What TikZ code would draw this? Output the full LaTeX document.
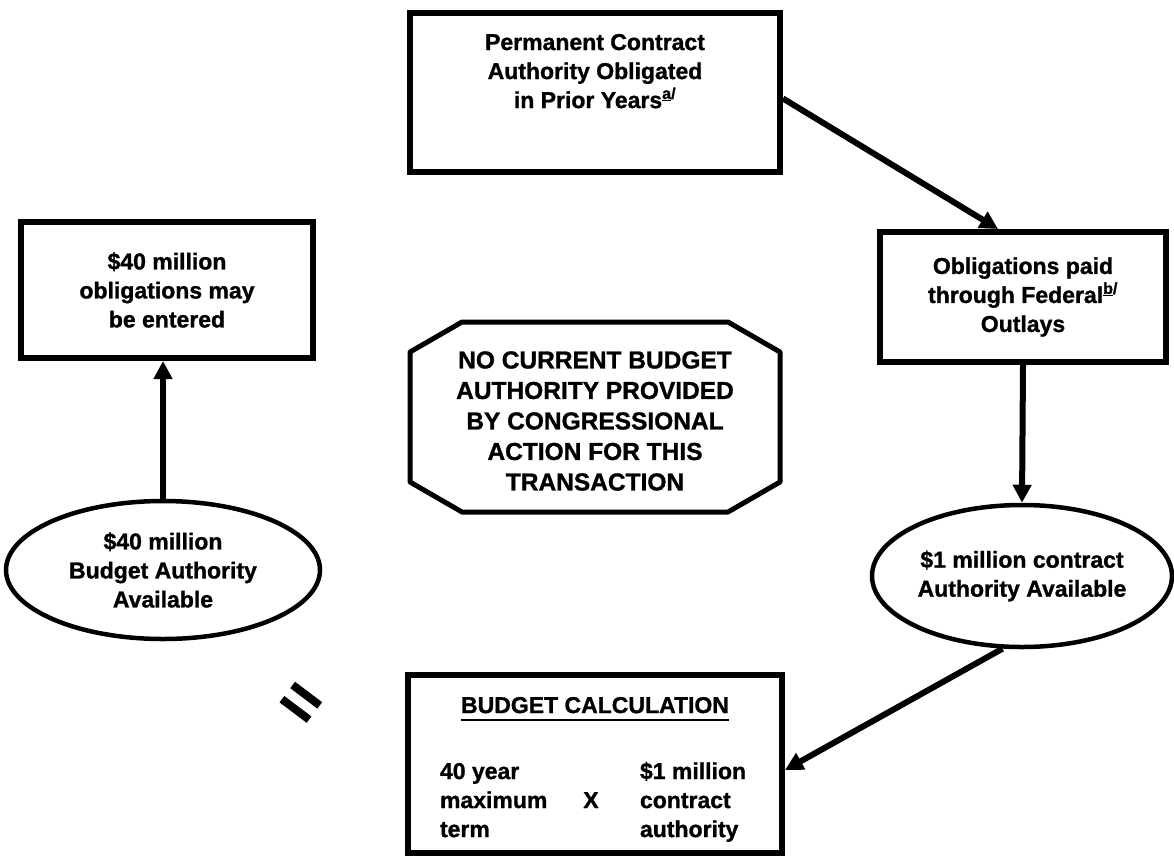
\documentclass[tikz,border=0pt]{standalone}
\usepackage{fontspec}
\setmainfont{Liberation Sans}[BoldFeatures={FakeBold=1.2}]
\usetikzlibrary{shapes.geometric,arrows.meta}
% thick rule under a heading
\newcommand\thickul[1]{\setbox0=\hbox{#1}\leavevmode\rlap{\raisebox{-8pt}{\rule{\wd0}{2.5pt}}}\box0}
\newcommand\fnmark[1]{\textsuperscript{\underline{#1}/}}
\begin{document}
\begin{tikzpicture}[x=1pt,y=-1pt,
  txt/.style={font=\bfseries\fontsize{23}{29}\selectfont, align=center},
  box/.style={txt, draw, line width=6pt, inner sep=0pt},
  oval/.style={txt, draw, ellipse, line width=4.5pt, inner sep=0pt},
  arr/.style={line width=6pt, -{Triangle[length=18pt,width=18pt]}},
]
\useasboundingbox (0,0) rectangle (1174,857);

% central column
\node[box, minimum width=370pt, minimum height=159pt] (prior) at (595,92.5)
  {\parbox[c][117pt][t]{360pt}{\centering Permanent Contract\\Authority Obligated\\in Prior Years\fnmark{a}}};

\draw[line width=5pt, line join=round]
  (462,322) -- (728,322) -- (780,352) -- (780,482) -- (728,512)
  -- (462,512) -- (410,482) -- (410,352) -- cycle;
\node[txt, font=\bfseries\fontsize{24.5}{30.5}\selectfont] (nocba) at (595,421)
  {NO CURRENT BUDGET\\AUTHORITY PROVIDED\\BY CONGRESSIONAL\\ACTION FOR THIS\\TRANSACTION};

\node[box, minimum width=374pt, minimum height=178pt] (calc) at (595,764)
  {\parbox[c][134pt][t]{360pt}{\centering
   \thickul{BUDGET CALCULATION}\\[37pt]
   \makebox[130pt][l]{40 year}\makebox[42pt]{}\hspace{28pt}\makebox[110pt][l]{\$1 million}\\
   \makebox[130pt][l]{maximum}\makebox[42pt]{X}\hspace{28pt}\makebox[110pt][l]{contract}\\
   \makebox[130pt][l]{term}\makebox[42pt]{}\hspace{28pt}\makebox[110pt][l]{authority}}};

% right column
\node[box, minimum width=286pt, minimum height=130pt] (paid) at (1023,297)
  {Obligations paid\\through Federal\fnmark{b}\\Outlays};
\node[oval, minimum width=300pt, minimum height=142pt] (avail) at (1022,576)
  {\$1 million contract\\Authority Available};

% left column
\node[box, minimum width=292pt, minimum height=136pt] (entered) at (167,290)
  {\$40 million\\obligations may\\be entered};
\node[oval, minimum width=314pt, minimum height=138pt] (budget) at (163,570)
  {\$40 million\\Budget Authority\\Available};

\node[font=\bfseries\fontsize{66}{66}\selectfont, rotate=-37] (equals) at (298,706) {=};

% connectors
\draw[arr] ([yshift=-6pt]prior.east) -- ([xshift=-25pt]paid.north);
\draw[arr] (paid.south) -- (avail.north);
\draw[arr] (avail.255) -- ([yshift=-6pt]calc.east);
\draw[arr] (budget.north) -- (budget.north |- entered.south);
\end{tikzpicture}
\end{document}
